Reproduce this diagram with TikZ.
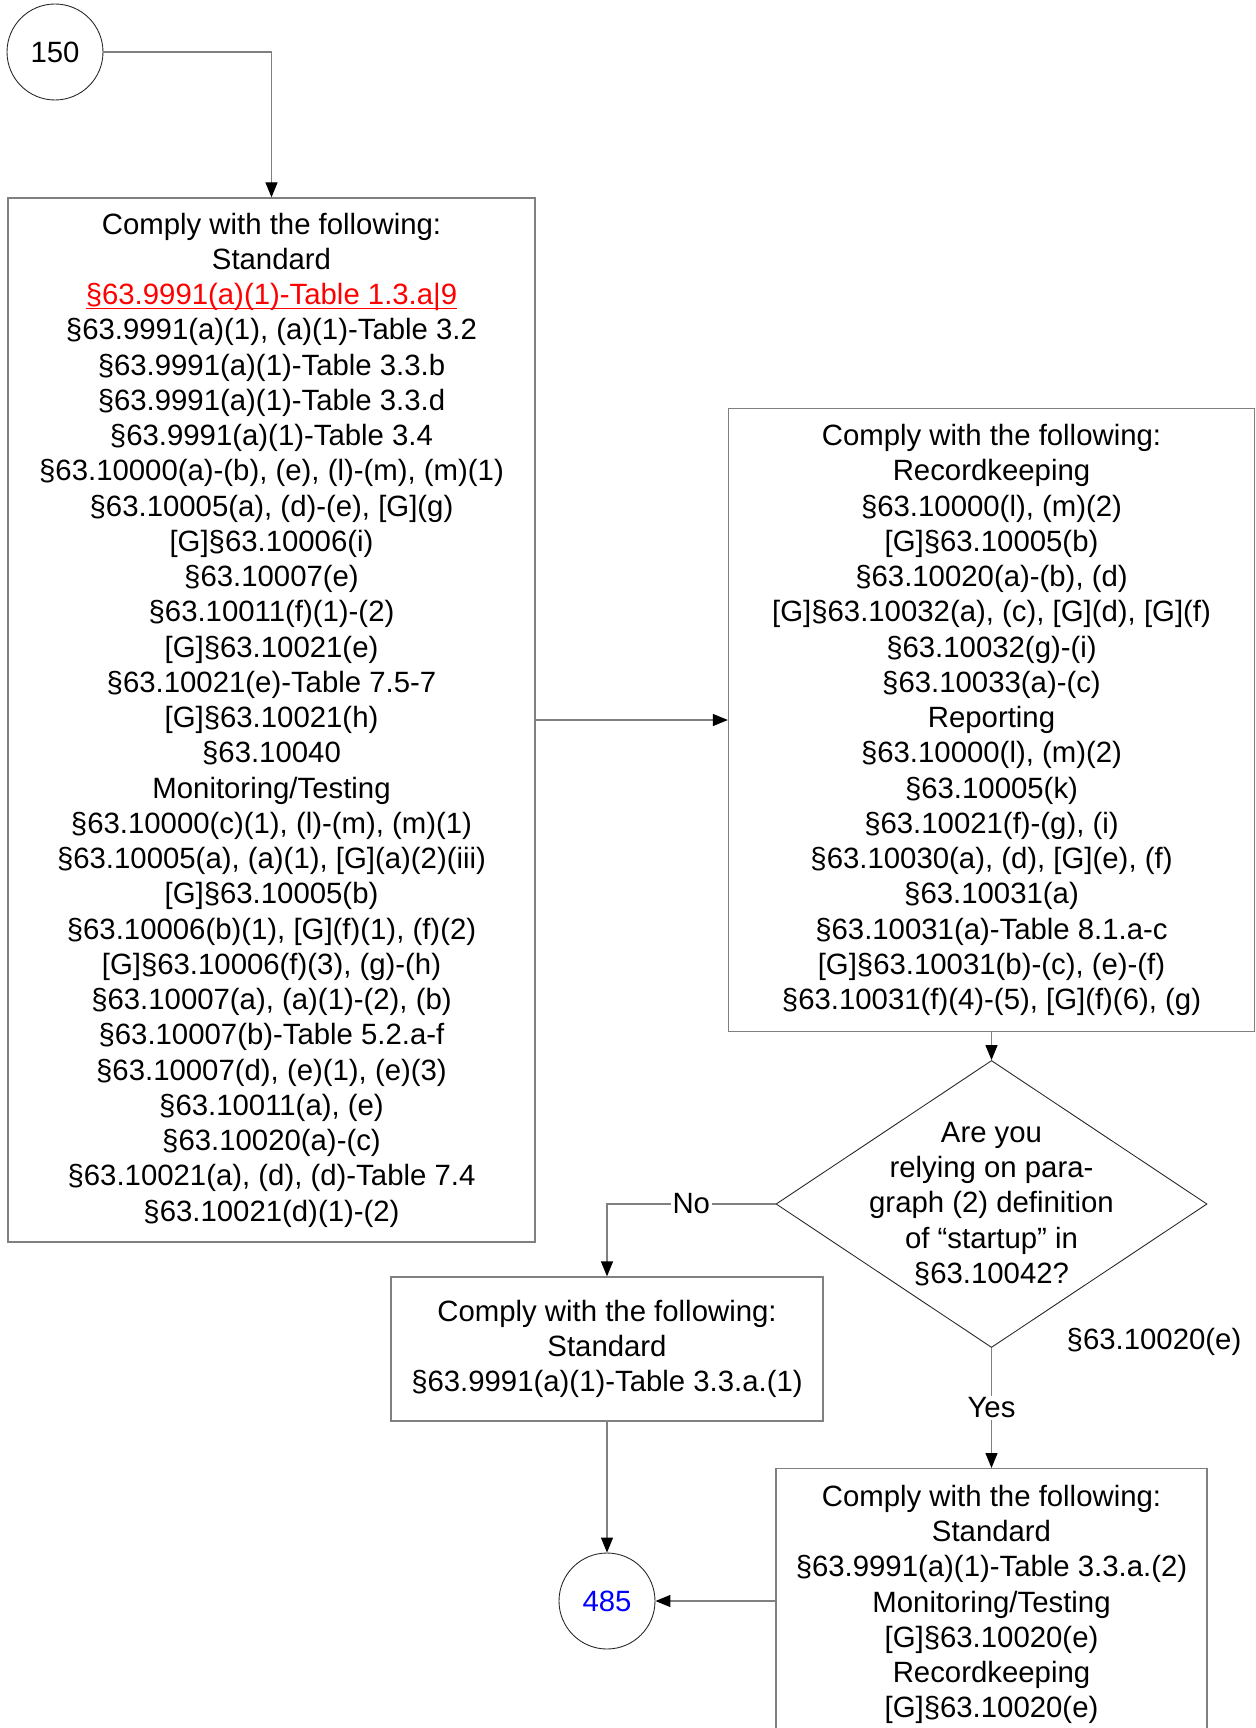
\documentclass[tikz,border=0pt]{standalone}
\usepackage{fontspec}
\setmainfont{Liberation Sans}
\usepackage{tikz}
\usetikzlibrary{arrows.meta,positioning,shapes.geometric}
\newcommand\redlink[1]{\setbox0\hbox{#1}\textcolor{red}{\rlap{\rule[-2.3pt]{\wd0}{0.6pt}}\box0}}

\begin{document}
\begin{tikzpicture}[txt/.style={font=\fontsize{16.7}{20.06}\selectfont,align=center},
  box/.style={txt,draw=black!50,line width=0.75pt,inner sep=0pt},
  conn/.style={draw=black!50,line width=0.75pt,-{Triangle[length=0.3cm,width=0.24cm,color=black]}},
  onl/.style={txt,fill=white,inner sep=1pt}]
 \path[use as bounding box,clip] (0,0) rectangle (25.1,-34.56);
 \node[box,draw=black!85,line width=0.5pt,circle,minimum size=1.92cm] (c150) at (1.1,-1.04) {150};
 \node[box,minimum width=10.54cm,minimum height=20.88cm] (stdA) at (5.43,-14.4) {Comply with the following:\\ Standard\\
   \redlink{§63.9991(a)(1)-Table 1.3.a|9}\\ §63.9991(a)(1), (a)(1)-Table 3.2\\ §63.9991(a)(1)-Table 3.3.b\\
   §63.9991(a)(1)-Table 3.3.d\\ §63.9991(a)(1)-Table 3.4\\ §63.10000(a)-(b), (e), (l)-(m), (m)(1)\\ §63.10005(a), (d)-(e), [G](g)\\
   {[G]}§63.10006(i)\\ §63.10007(e)\\ §63.10011(f)(1)-(2)\\ {[G]}§63.10021(e)\\ §63.10021(e)-Table 7.5-7\\ {[G]}§63.10021(h)\\
   §63.10040\\ Monitoring/Testing\\ §63.10000(c)(1), (l)-(m), (m)(1)\\ §63.10005(a), (a)(1), [G](a)(2)(iii)\\ {[G]}§63.10005(b)\\
   §63.10006(b)(1), [G](f)(1), (f)(2)\\ {[G]}§63.10006(f)(3), (g)-(h)\\ §63.10007(a), (a)(1)-(2), (b)\\ §63.10007(b)-Table 5.2.a-f\\
   §63.10007(d), (e)(1), (e)(3)\\ §63.10011(a), (e)\\ §63.10020(a)-(c)\\ §63.10021(a), (d), (d)-Table 7.4\\ §63.10021(d)(1)-(2)};
 \node[box,minimum width=10.52cm,minimum height=12.46cm] (recB) at (19.83,-14.4) {Comply with the following:\\ Recordkeeping\\
   §63.10000(l), (m)(2)\\ {[G]}§63.10005(b)\\ §63.10020(a)-(b), (d)\\ {[G]}§63.10032(a), (c), [G](d), [G](f)\\ §63.10032(g)-(i)\\
   §63.10033(a)-(c)\\ Reporting\\ §63.10000(l), (m)(2)\\ §63.10005(k)\\ §63.10021(f)-(g), (i)\\ §63.10030(a), (d), [G](e), (f)\\
   §63.10031(a)\\ §63.10031(a)-Table 8.1.a-c\\ {[G]}§63.10031(b)-(c), (e)-(f)\\ §63.10031(f)(4)-(5), [G](f)(6), (g)};
 \node[draw=black!85,line width=0.5pt,diamond,minimum width=8.62cm,minimum height=5.74cm,inner sep=0pt,
   label={[txt]center:{Are you\\ relying on para-\\ graph (2) definition\\ of “startup” in\\ §63.10042?}}] (dec) at (19.83,-24.08) {};
 \node[txt] (ref) at (23.08,-26.84) {§63.10020(e)};
 \node[box,minimum width=8.64cm,minimum height=2.88cm] (stdC) at (12.14,-26.98) {Comply with the following:\\ Standard\\
   §63.9991(a)(1)-Table 3.3.a.(1)};
 \node[box,draw=black!85,line width=0.5pt,circle,minimum size=1.92cm,text=blue] (c485) at (12.14,-32.02) {485};
 \node[box,minimum width=8.62cm,inner ysep=0.33cm,anchor=north] (stdD) at (19.83,-29.36) {Comply with the following:\\ Standard\\
   §63.9991(a)(1)-Table 3.3.a.(2)\\ Monitoring/Testing\\ {[G]}§63.10020(e)\\ Recordkeeping\\ {[G]}§63.10020(e)};
 \draw[conn] (c150) -| (stdA.north);
 \draw[conn] (stdA) -- (recB);
 \draw[conn] (recB) -- (dec);
 \draw[conn] (dec.west) -| node[onl,pos=0.25] {No} (stdC.north);
 \draw[conn] (dec.south) -- node[onl] {Yes} (stdD.north);
 \draw[conn] (stdC) -- (c485);
 \draw[conn] (stdD.west |- c485) -- (c485);
\end{tikzpicture}
\end{document}
